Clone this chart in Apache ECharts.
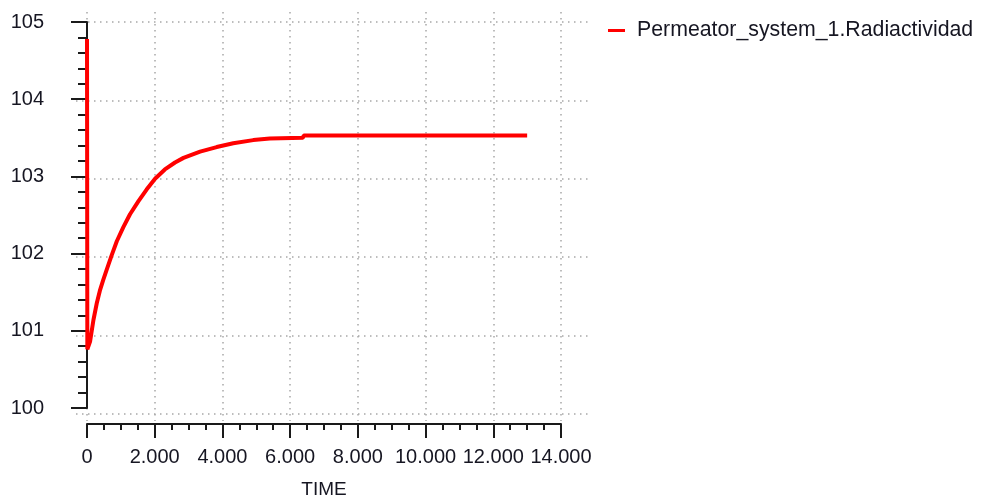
<!DOCTYPE html>
<html>
<head>
<meta charset="utf-8">
<script src="https://cdn.jsdelivr.net/npm/echarts@6/dist/echarts.min.js"></script>
<style>
    html, body { margin: 0; padding: 0; background: #fff; }
    #chart { width: 982px; height: 504px; }
</style>
</head>
<body>
<div id="chart"></div>
<script>
// datos
var seriesName = 'Permeator_system_1.Radiactividad';
var timeValues = [0, 10, 50, 90, 190, 290, 380, 480, 580, 730, 880, 1070, 1270, 1520, 1760, 2010,
    2300, 2600, 2850, 3340, 3830, 4320, 4910, 5400, 6380, 6400, 13000];
var radValues = [104.78, 100.76, 100.74, 100.86, 101.14, 101.36, 101.52, 101.66, 101.79, 101.98, 102.16, 102.34,
    102.51, 102.68, 102.83, 102.97, 103.09, 103.18, 103.24, 103.32, 103.38, 103.43, 103.47, 103.49,
    103.50, 103.53, 103.53];
var xTicks = [0, 2000, 4000, 6000, 8000, 10000, 12000, 14000];
var yTicks = [100, 101, 102, 103, 104, 105];

var font = 'Liberation Sans, Arial, sans-serif';
var textColor = '#161622';
var axisColor = '#1a1a1a';
var gridLine = { show: true, lineStyle: { color: '#a8a8a8', width: 1.5, type: [1.5, 4.5] } };

// 2.000, 10.000 ...
function fmtX(v) {
    return String(v).replace(/\B(?=(\d{3})+(?!\d))/g, '.');
}

var points = timeValues.map(function (t, i) { return [t, radValues[i]]; });

var xMin = xTicks[0], xMax = xTicks[xTicks.length - 1], xStep = xTicks[1] - xTicks[0];
var yMin = yTicks[0], yMax = yTicks[yTicks.length - 1], yStep = yTicks[1] - yTicks[0];

var chart = echarts.init(document.getElementById('chart'));

var option = {
    animation: false,
    backgroundColor: '#fff',
    legend: {
        data: [seriesName],
        left: 608,
        top: 20,
        padding: 0,
        icon: 'rect',
        itemWidth: 17,
        itemHeight: 3,
        textStyle: { fontFamily: font, fontSize: 21.3, color: textColor, padding: [0, 0, 0, 7] }
    },
    // 0: lineas verticales, 1: lineas horizontales, 2: datos y ejes
    grid: [
        { left: 87, right: 421, top: 12, bottom: 83 },
        { left: 76, right: 392, top: 22, bottom: 90 },
        { left: 87, right: 421, top: 22, bottom: 90 }
    ],
    xAxis: [
        { gridIndex: 0, type: 'value', min: xMin, max: xMax, interval: xStep,
          axisLine: { show: false }, axisTick: { show: false }, axisLabel: { show: false },
          splitLine: gridLine },
        { gridIndex: 1, type: 'value', min: xMin, max: xMax, show: false },
        { gridIndex: 2, type: 'value', min: xMin, max: xMax, interval: xStep,
          offset: 16,
          name: 'TIME', nameLocation: 'middle', nameGap: 56,
          nameTextStyle: { fontFamily: font, fontSize: 19, color: textColor },
          axisLine: { show: true, lineStyle: { color: axisColor, width: 2 } },
          axisTick: { show: true, length: 14, lineStyle: { color: axisColor, width: 2 } },
          minorTick: { show: true, splitNumber: 4, length: 6, lineStyle: { color: axisColor, width: 2 } },
          axisLabel: { fontFamily: font, fontSize: 20, color: textColor, margin: 23, formatter: fmtX },
          splitLine: { show: false } }
    ],
    yAxis: [
        { gridIndex: 0, type: 'value', min: yMin, max: yMax, show: false },
        { gridIndex: 1, type: 'value', min: yMin, max: yMax, interval: yStep,
          axisLine: { show: false }, axisTick: { show: false }, axisLabel: { show: false },
          splitLine: gridLine },
        { gridIndex: 2, type: 'value', min: yMin, max: yMax, interval: yStep,
          offset: 15,
          axisLine: { show: true, lineStyle: { color: axisColor, width: 2 } },
          axisTick: { show: true, length: 16, lineStyle: { color: axisColor, width: 2 } },
          minorTick: { show: true, splitNumber: 5, length: 9, lineStyle: { color: axisColor, width: 2 } },
          axisLabel: { fontFamily: font, fontSize: 20, color: textColor, margin: 28 },
          splitLine: { show: false } }
    ],
    series: [{
        name: seriesName,
        type: 'line',
        xAxisIndex: 2,
        yAxisIndex: 2,
        data: points,
        showSymbol: false,
        symbol: 'none',
        color: '#ff0000',
        lineStyle: { color: '#ff0000', width: 4 }
    }]
};

chart.setOption(option);
</script>
</body>
</html>
